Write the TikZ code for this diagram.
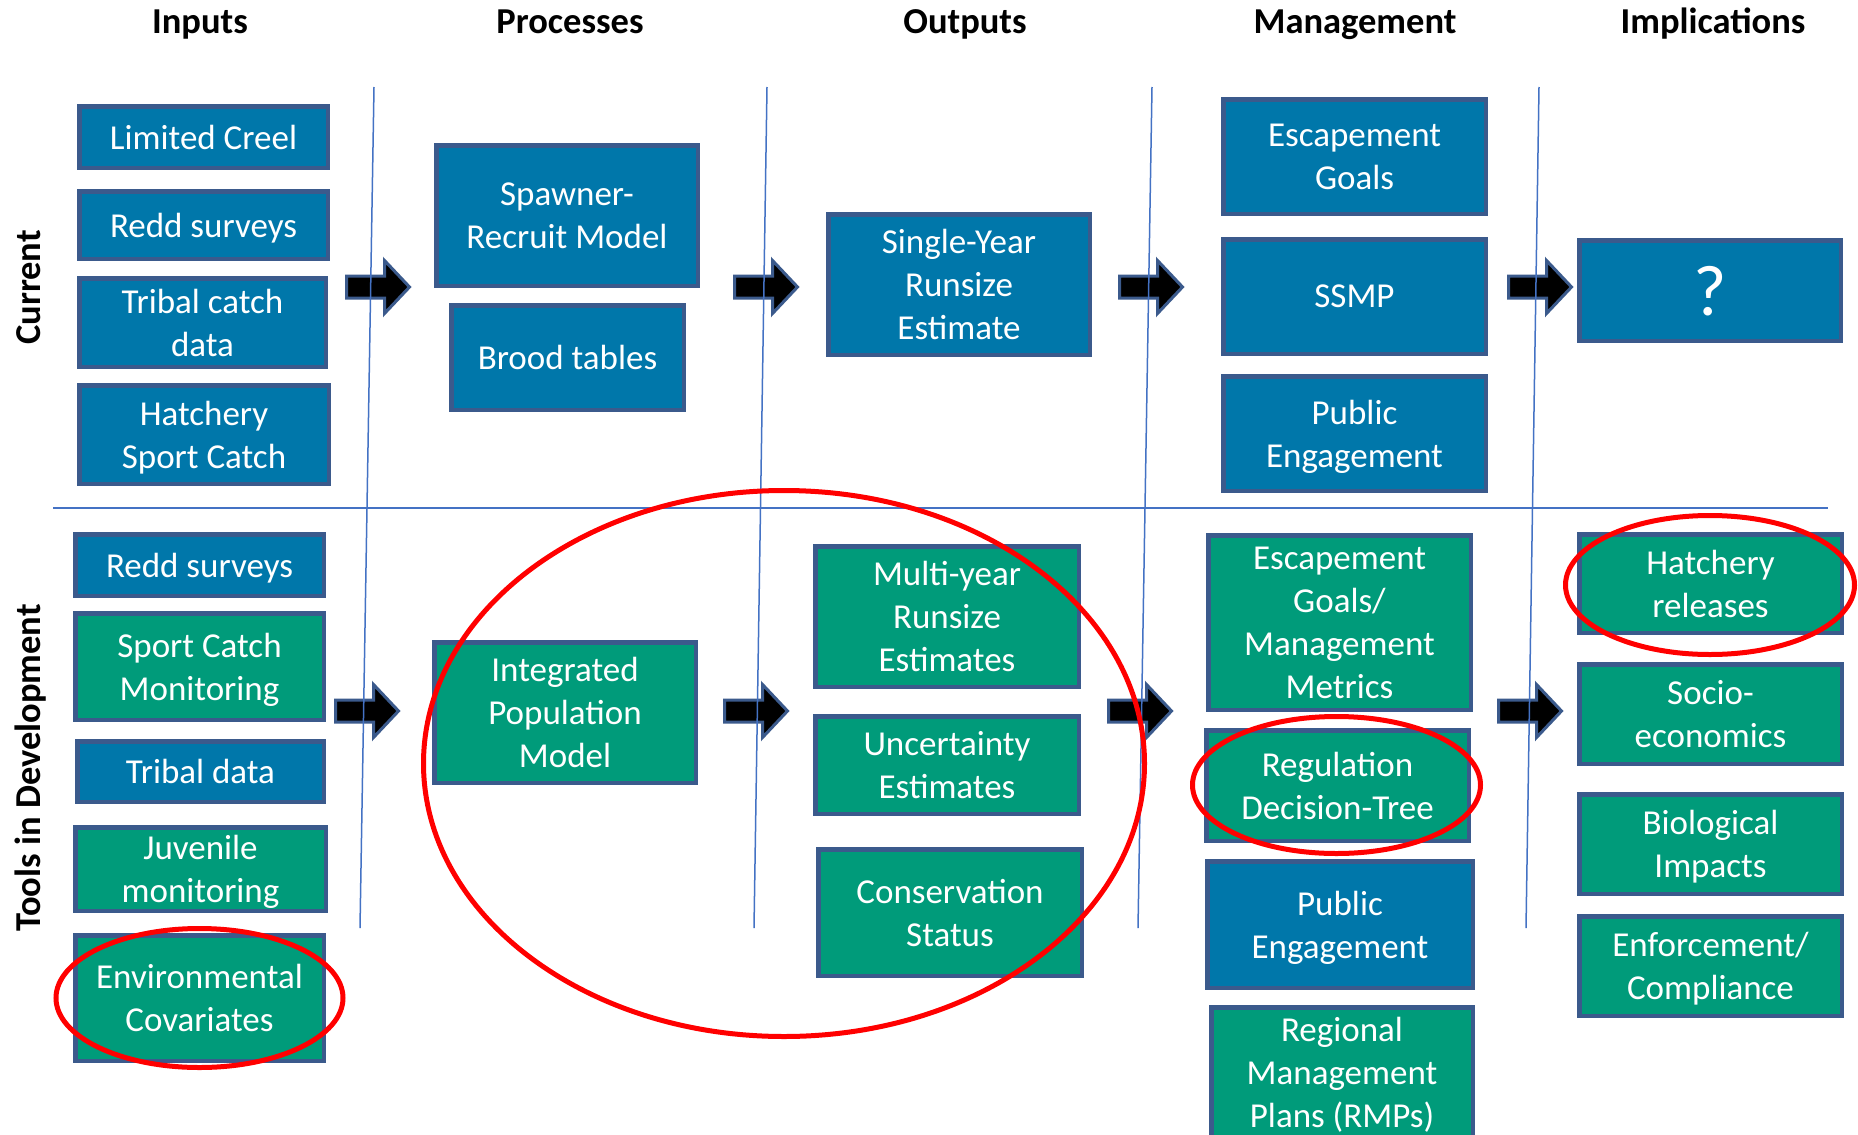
\documentclass[tikz,border=0pt]{standalone}
\usepackage{fontspec}
\setmainfont{Carlito}
\definecolor{fillb}{RGB}{0,119,170}
\definecolor{fillg}{RGB}{0,155,122}
\definecolor{bordc}{RGB}{59,90,140}
\definecolor{linec}{RGB}{68,114,196}
\begin{document}
\begin{tikzpicture}[x=1pt,y=-1pt,
  bx/.style={draw=bordc, line width=4.5pt, text=white, align=center, inner sep=0pt,
    text depth=0pt, font=\fontsize{35}{43}\selectfont},
  blu/.style={bx, fill=fillb},
  grn/.style={bx, fill=fillg},
  hdr/.style={font=\fontsize{36.5}{42}\selectfont\bfseries, anchor=base},
  sidelab/.style={font=\fontsize{36.5}{42}\selectfont\bfseries, anchor=base, rotate=90},
  sepline/.style={draw=linec, line width=1.5pt},
  ring/.style={draw=red, line width=5pt},
  barrow/.pic={\draw[draw=bordc, fill=black, line width=3pt, line join=miter]
    (1.5,-11) -- (39.5,-11) -- (39.5,-26.5) -- (64.5,0) -- (39.5,26.5) -- (39.5,11) -- (1.5,11) -- cycle;}
]
\useasboundingbox (0,0) rectangle (1858,1135);
\clip (0,0) rectangle (1858,1135);
\fill[white] (0,0) rectangle (1858,1135);

% block arrows
\pic at (345,287) {barrow};
\pic at (733,287) {barrow};
\pic at (1118,287) {barrow};
\pic at (1507,287) {barrow};
\pic at (334,711) {barrow};
\pic at (723,711) {barrow};
\pic at (1107,711) {barrow};
\pic at (1497,711) {barrow};

% separator lines
\draw[sepline] (374,87) -- (360,928);
\draw[sepline] (767,87) -- (754,928);
\draw[sepline] (1152,87) -- (1138,928);
\draw[sepline] (1539,87) -- (1526,928);
\draw[sepline] (53,508) -- (1828,508);

% headers
\node[hdr] (hin) at (200,34) {Inputs};
\node[hdr] (hpr) at (570,34) {Processes};
\node[hdr] (hou) at (965,34) {Outputs};
\node[hdr] (hma) at (1355,34) {Management};
\node[hdr] (him) at (1713,34) {Implications};
\node[sidelab] (lcur) at (40,287.5) {Current};
\node[sidelab] (ltool) at (40,768) {Tools in Development};

% current row
\node[blu, minimum width=248.5pt, minimum height=61.5pt] (lc) at (203.5,137) {Limited Creel};
\node[blu, minimum width=248.5pt, minimum height=67.5pt] (rsa) at (203.5,225) {Redd surveys};
\node[blu, minimum width=246.5pt, minimum height=88.5pt] (tc) at (202.5,322.5) {Tribal catch\\data};
\node[blu, minimum width=249.5pt, minimum height=98.5pt] (hsc) at (204,434.5) {Hatchery\\Sport Catch};
\node[blu, minimum width=261.5pt, minimum height=140.5pt] (sr) at (567,215.5) {Spawner-\\Recruit Model};
\node[blu, minimum width=232.5pt, minimum height=104.5pt] (bt) at (567.5,357.5) {Brood tables};
\node[blu, minimum width=261.5pt, minimum height=140.5pt] (sy) at (959,284.5) {Single-Year\\Runsize\\Estimate};
\node[blu, minimum width=262.5pt, minimum height=114.5pt] (eg) at (1354.5,156.5) {Escapement\\Goals};
\node[blu, minimum width=262.5pt, minimum height=114.5pt] (ssmp) at (1354.5,296.5) {SSMP};
\node[blu, minimum width=262.5pt, minimum height=114.5pt] (pea) at (1354.5,433.5) {Public\\Engagement};
\node[blu, minimum width=261.5pt, minimum height=100.5pt, font=\fontsize{72}{80}\selectfont] (q) at (1710,290.5) {?};

% tools in development row
\node[blu, minimum width=248.5pt, minimum height=61.5pt] (rsb) at (199.5,565) {Redd surveys};
\node[grn, minimum width=248.5pt, minimum height=106.5pt] (scm) at (199.5,666.5) {Sport Catch\\Monitoring};
\node[blu, minimum width=246.5pt, minimum height=60.5pt] (td) at (200.5,771.5) {Tribal data};
\node[grn, minimum width=250.5pt, minimum height=83.5pt] (jm) at (200.5,869) {Juvenile\\monitoring};
\node[grn, minimum width=248.5pt, minimum height=125.5pt] (ec) at (199.5,998) {Environmental\\Covariates};
\node[grn, minimum width=261.5pt, minimum height=140.5pt] (ipm) at (565,712.5) {Integrated\\Population\\Model};
\node[grn, minimum width=263.5pt, minimum height=140.5pt] (my) at (947,616.5) {Multi-year\\Runsize\\Estimates};
\node[grn, minimum width=263.5pt, minimum height=97.5pt] (ue) at (947,765) {Uncertainty\\Estimates};
\node[grn, minimum width=263.5pt, minimum height=126.5pt] (cs) at (950,912.5) {Conservation\\Status};
\node[grn, minimum width=262.5pt, minimum height=174.5pt] (egm) at (1339.5,622.5) {Escapement\\Goals/\\Management\\Metrics};
\node[grn, minimum width=262.5pt, minimum height=110.5pt] (rdt) at (1337.5,785.5) {Regulation\\Decision-Tree};
\node[blu, minimum width=265.5pt, minimum height=126.5pt] (peb) at (1340,924.5) {Public\\Engagement};
\node[grn, minimum width=261.5pt, minimum height=129.5pt] (rmp) at (1342,1072) {Regional\\Management\\Plans (RMPs)};
\node[grn, minimum width=262.5pt, minimum height=98.5pt] (hr) at (1710.5,583.5) {Hatchery\\releases};
\node[grn, minimum width=262.5pt, minimum height=99.5pt] (se) at (1710.5,714) {Socio-\\economics};
\node[grn, minimum width=262.5pt, minimum height=99.5pt] (bi) at (1710.5,844) {Biological\\Impacts};
\node[grn, minimum width=262.5pt, minimum height=99.5pt] (efc) at (1710.5,966) {Enforcement/\\Compliance};

% red highlight ellipses
\draw[ring] (199.5,998) ellipse [x radius=143.5, y radius=69.5];
\draw[ring] (784,763.5) ellipse [x radius=360.5, y radius=273];
\draw[ring] (1336.5,785) ellipse [x radius=144, y radius=68.5];
\draw[ring] (1710,585) ellipse [x radius=144.5, y radius=69.5];
\end{tikzpicture}
\end{document}
